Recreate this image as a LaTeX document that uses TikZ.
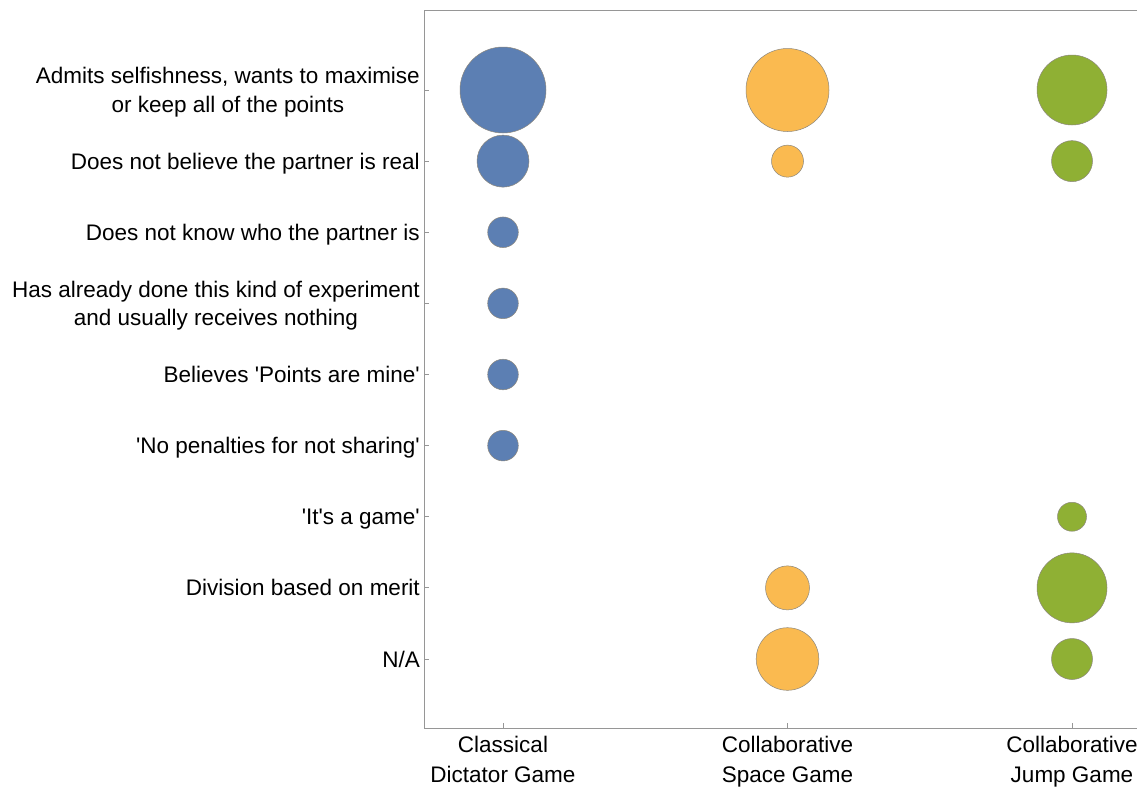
\documentclass[tikz,border=0pt]{standalone}
\usepackage{fontspec}
\setmainfont{Liberation Sans}
\definecolor{cblue}{RGB}{92,127,179}
\definecolor{corange}{RGB}{250,186,80}
\definecolor{cgreen}{RGB}{143,176,52}
\definecolor{cframe}{RGB}{150,150,150}
\definecolor{cedge}{RGB}{140,135,125}
\newcommand{\sq}{\textquotesingle}
\begin{document}
\begin{tikzpicture}[x=1pt,y=-1pt,
  lbl/.style={font=\fontsize{22.5}{28.5}\selectfont, inner sep=0pt, text=black},
  ylbl/.style={lbl, anchor=base east},
  ylbltwo/.style={lbl, anchor=north east, align=center},
  xlbl/.style={font=\fontsize{22.5}{30}\selectfont, inner sep=0pt, text=black, anchor=north, align=center},
  bub/.style={circle, inner sep=0pt, draw=cedge, line width=0.5pt},
  frameline/.style={draw=cframe, line width=1pt},
  tickline/.style={draw=cframe, line width=0.8pt}]
\useasboundingbox (0,0) rectangle (1137,787);
\fill[white] (0,0) rectangle (1137,787);
% frame
\coordinate (tl) at (424,10);
\coordinate (tr) at (1137,10);
\coordinate (bl) at (424,728);
\coordinate (br) at (1137,728);
\draw[frameline] (tr) -- (tl) -- (bl) -- (br);
% rows
\foreach \i/\yy in {1/90,2/161.125,3/232.25,4/303.375,5/374.5,6/445.625,7/516.75,8/587.875,9/659}{
  \coordinate (ya\i) at (424,\yy);
  \coordinate (yb\i) at (429,\yy);
  \draw[tickline] (ya\i) -- (yb\i);
}
\foreach \j/\xx in {1/503,2/787.5,3/1072}{
  \coordinate (xa\j) at (\xx,728);
  \coordinate (xb\j) at (\xx,723);
  \draw[tickline] (xa\j) -- (xb\j);
}
% y labels
\node[ylbltwo] (l1) at (420,67) {Admits selfishness, wants to maximise\\or keep all of the points};
\node[ylbl] (l2) at (420,169.1) {Does not believe the partner is real};
\node[ylbl] (l3) at (420,240.3) {Does not know who the partner is};
\node[ylbltwo] (l4) at (420,280.5) {Has already done this kind of experiment\\and usually receives nothing};
\node[ylbl] (l5) at (420,382.5) {Believes \sq Points are mine\sq};
\node[ylbl] (l6) at (420,453.6) {\sq No penalties for not sharing\sq};
\node[ylbl] (l7) at (420,524.8) {\sq It\sq s a game\sq};
\node[ylbl] (l8) at (420,595.9) {Division based on merit};
\node[ylbl] (l9) at (420,667) {N/A};
% x labels
\node[xlbl] (g1) at (503,735.5) {Classical\\Dictator Game};
\node[xlbl] (g2) at (787.5,735.5) {Collaborative\\Space Game};
\node[xlbl] (g3) at (1072,735.5) {Collaborative\\Jump Game};
% bubbles: classical
\node[bub, fill=cblue, minimum size=86pt] (b1) at (503,90) {};
\node[bub, fill=cblue, minimum size=52pt] (b2) at (503,161.125) {};
\node[bub, fill=cblue, minimum size=30.6pt] (b3) at (503,232.25) {};
\node[bub, fill=cblue, minimum size=30.6pt] (b4) at (503,303.375) {};
\node[bub, fill=cblue, minimum size=30.6pt] (b5) at (503,374.5) {};
\node[bub, fill=cblue, minimum size=30.6pt] (b6) at (503,445.625) {};
% space game
\node[bub, fill=corange, minimum size=83pt] (o1) at (787.5,90) {};
\node[bub, fill=corange, minimum size=32pt] (o2) at (787.5,161.125) {};
\node[bub, fill=corange, minimum size=44pt] (o8) at (787.5,587.875) {};
\node[bub, fill=corange, minimum size=62.6pt] (o9) at (787.5,659) {};
% jump game
\node[bub, fill=cgreen, minimum size=70pt] (j1) at (1072,90) {};
\node[bub, fill=cgreen, minimum size=41pt] (j2) at (1072,161.125) {};
\node[bub, fill=cgreen, minimum size=29pt] (j7) at (1072,516.75) {};
\node[bub, fill=cgreen, minimum size=70pt] (j8) at (1072,587.875) {};
\node[bub, fill=cgreen, minimum size=41pt] (j9) at (1072,659) {};
\end{tikzpicture}
\end{document}
